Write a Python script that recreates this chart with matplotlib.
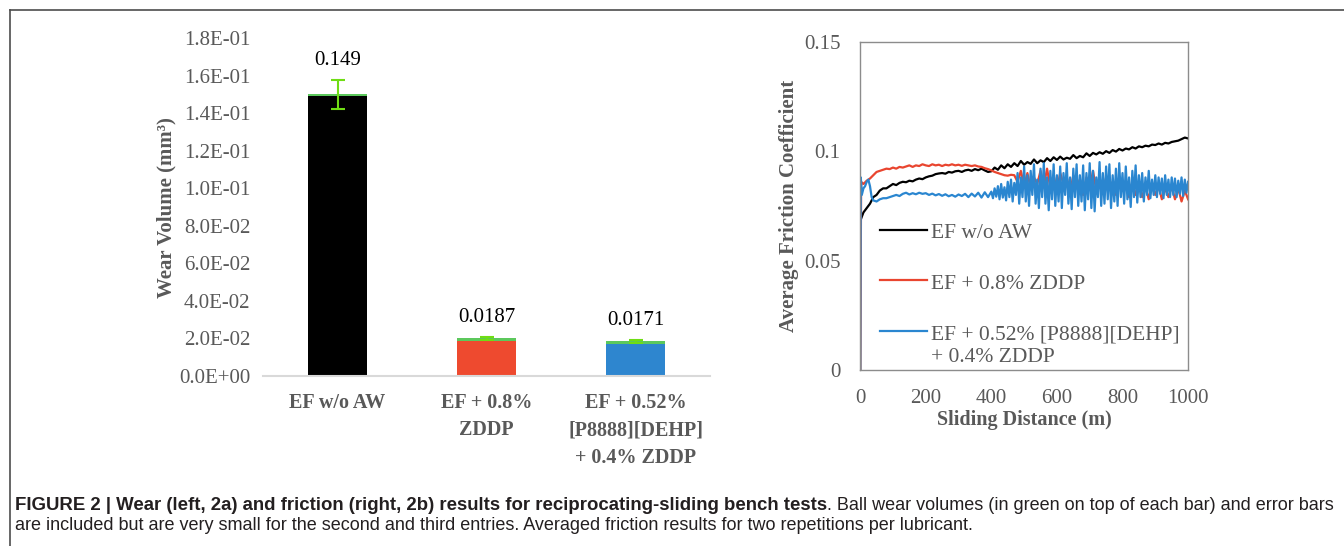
import matplotlib
matplotlib.use("Agg")
import matplotlib.pyplot as plt
from matplotlib.lines import Line2D
import numpy as np

plt.rcParams['font.family'] = ['Liberation Serif', 'DejaVu Serif']

# ---- wear data (left) ----
categories = ["EF w/o AW", "EF + 0.8%\nZDDP", "EF + 0.52%\n[P8888][DEHP]\n+ 0.4% ZDDP"]
wear = [0.149, 0.0187, 0.0171]
ball_wear = [0.0012, 0.0015, 0.0013]
wear_err = [0.0077, 0.0008, 0.0007]
wear_labels = ["0.149", "0.0187", "0.0171"]
bar_colors = ["#000000", "#EE4A2F", "#2E86CF"]
wear_ticks = [0.0, 0.02, 0.04, 0.06, 0.08, 0.10, 0.12, 0.14, 0.16, 0.18]
wear_ticklabels = ["0.0E+00", "2.0E-02", "4.0E-02", "6.0E-02", "8.0E-02",
                   "1.0E-01", "1.2E-01", "1.4E-01", "1.6E-01", "1.8E-01"]

# ---- friction data (right) ----
black_d = [0] + list(range(0, 1001, 10))
black_f = [0.0,
           0.068, 0.072, 0.074, 0.076, 0.079, 0.080, 0.082, 0.083, 0.083, 0.084,
           0.085, 0.0845, 0.0855, 0.086, 0.0858, 0.0865, 0.0862, 0.087, 0.0875, 0.0872,
           0.088, 0.0885, 0.0888, 0.0895, 0.0898, 0.090, 0.0897, 0.0905, 0.0902, 0.0908,
           0.091, 0.0905, 0.0912, 0.0915, 0.0910, 0.0918, 0.0913, 0.0920, 0.0912, 0.0905,
           0.0908, 0.0925, 0.0915, 0.0935, 0.0922, 0.0940, 0.0928, 0.0945, 0.0932, 0.0955,
           0.0938, 0.0950, 0.0942, 0.0962, 0.0945, 0.0958, 0.0950, 0.0968, 0.0955, 0.0972,
           0.0960, 0.0975, 0.0962, 0.0970, 0.0965, 0.0982, 0.0968, 0.0978, 0.0972, 0.0990,
           0.0978, 0.0992, 0.0985, 0.0995, 0.0988, 0.1000, 0.0992, 0.1005, 0.0998, 0.1010,
           0.1003, 0.1012, 0.1008, 0.1018, 0.1012, 0.1022, 0.1018, 0.1025, 0.1022, 0.1030,
           0.1028, 0.1035, 0.1030, 0.1038, 0.1035, 0.1042, 0.1045, 0.1048, 0.1055, 0.1062,
           0.1058]

red_d = [0, 3] + list(range(10, 1001, 10))
red_f = [0.0, 0.086,
         0.085, 0.0865, 0.0875, 0.089, 0.0905, 0.091, 0.0915, 0.092, 0.0918, 0.0925,
         0.092, 0.0928, 0.0925, 0.093, 0.0935, 0.0928, 0.0935, 0.0932, 0.094, 0.0935,
         0.0932, 0.094, 0.0935, 0.0938, 0.0932, 0.0938, 0.0935, 0.094, 0.0935, 0.0938,
         0.0933, 0.0938, 0.0935, 0.0932, 0.0935, 0.093, 0.0928, 0.0922, 0.0918, 0.0912,
         0.0905, 0.0900, 0.0895, 0.0890, 0.0888, 0.0892, 0.089, 0.086, 0.091, 0.084,
         0.090, 0.083, 0.088, 0.085, 0.091, 0.084, 0.092, 0.083, 0.089, 0.082,
         0.090, 0.085, 0.088, 0.081, 0.089, 0.084, 0.087, 0.080, 0.088, 0.083,
         0.091, 0.082, 0.087, 0.081, 0.088, 0.083, 0.086, 0.080, 0.087, 0.082,
         0.085, 0.079, 0.086, 0.080, 0.085, 0.079, 0.084, 0.078, 0.085, 0.080,
         0.084, 0.078, 0.083, 0.079, 0.084, 0.078, 0.083, 0.077, 0.082, 0.078]

blue_d = ([0, 2, 5, 10, 15, 20, 25, 30, 35, 40, 50, 60, 70, 80, 90, 100]
          + list(range(110, 401, 10)) + list(range(405, 1001, 5)))
blue_f = [0.0, 0.088, 0.080, 0.083, 0.084, 0.086, 0.087, 0.084, 0.079, 0.0775,
          0.077, 0.078, 0.0785, 0.0785, 0.079, 0.0795,
          0.0800, 0.0795, 0.0805, 0.0810, 0.0802, 0.0808, 0.0803, 0.0810, 0.0805, 0.0808,
          0.0800, 0.0806, 0.0798, 0.0804, 0.0796, 0.0803, 0.0794, 0.0800, 0.0792, 0.0802,
          0.0795, 0.0805, 0.0790, 0.0806, 0.0793, 0.0810, 0.0788, 0.0812, 0.0790, 0.0815,
          0.0785, 0.0830, 0.0792, 0.0840, 0.0780, 0.0850, 0.0788, 0.0835, 0.0775, 0.0860,
          0.0790, 0.0870, 0.0770, 0.0855, 0.0800, 0.0900, 0.0760, 0.0880, 0.0790, 0.0930,
          0.0770, 0.0890, 0.0750, 0.0910, 0.0800, 0.0940, 0.0760, 0.0870, 0.0740, 0.0920,
          0.0790, 0.0945, 0.0760, 0.0880, 0.0730, 0.0910, 0.0780, 0.0940, 0.0750, 0.0890,
          0.0770, 0.0930, 0.0740, 0.0900, 0.0800, 0.0945, 0.0760, 0.0880, 0.0735, 0.0920,
          0.0790, 0.0940, 0.0750, 0.0890, 0.0770, 0.0935, 0.0730, 0.0900, 0.0780, 0.0945,
          0.0740, 0.0910, 0.0725, 0.0880, 0.0790, 0.0950, 0.0750, 0.0900, 0.0760, 0.0930,
          0.0780, 0.0940, 0.0740, 0.0890, 0.0770, 0.0920, 0.0750, 0.0945, 0.0790, 0.0900,
          0.0760, 0.0930, 0.0780, 0.0880, 0.0745, 0.0910, 0.0790, 0.0935, 0.0765, 0.0890,
          0.0790, 0.0900, 0.0770, 0.0880, 0.0800, 0.0910, 0.0785, 0.0870, 0.0800, 0.0890,
          0.0790, 0.0880, 0.0805, 0.0875, 0.0785, 0.0890, 0.0800, 0.0870, 0.0790, 0.0880,
          0.0800, 0.0875, 0.0790, 0.0865, 0.0805, 0.0880, 0.0795, 0.0870, 0.0810, 0.0860]

series_labels = ["EF w/o AW", "EF + 0.8% ZDDP", "EF + 0.52% [P8888][DEHP]\n+ 0.4% ZDDP"]
line_colors = ["#000000", "#E9452F", "#2A86D0"]
fric_ticks = [0, 0.05, 0.1, 0.15]
fric_ticklabels = ["0", "0.05", "0.1", "0.15"]
dist_ticks = [0, 200, 400, 600, 800, 1000]

gray = "#595959"
green_top = "#5CC85C"
green_err = "#6FDD14"

fig = plt.figure(figsize=(13.44, 5.46), dpi=100)

# ---------- left: wear bars ----------
ax1 = fig.add_axes([0.1957, 0.3114, 0.3326, 0.6186])
x = np.arange(len(categories))
ax1.bar(x, wear, width=0.4, color=bar_colors, zorder=2)
ax1.bar(x, ball_wear, width=0.4, bottom=wear, color=green_top, zorder=2)
tops = [w + b for w, b in zip(wear, ball_wear)]
ax1.errorbar(x, tops, yerr=wear_err, fmt="none", ecolor=green_err,
             elinewidth=1.5, capsize=5, capthick=1.5, zorder=3)
for xi, t, e, lab in zip(x, tops, wear_err, wear_labels):
    ax1.annotate(lab, (xi, t + e), xytext=(0, 7), textcoords="offset points",
                 ha="center", va="bottom", fontsize=15, color="black")
ax1.set_xlim(-0.5, 2.5)
ax1.set_ylim(0, 0.18)
ax1.set_yticks(wear_ticks)
ax1.set_yticklabels(wear_ticklabels)
ax1.set_xticks(x)
ax1.set_xticklabels(categories, fontweight="bold", fontsize=14.5, color=gray,
                    linespacing=1.5, va="top")
ax1.tick_params(axis="y", length=0, pad=9, labelsize=15, labelcolor=gray)
ax1.tick_params(axis="x", length=0, pad=12)
for s in ["top", "right", "left"]:
    ax1.spines[s].set_visible(False)
ax1.spines["bottom"].set_color("#D9D9D9")
ax1.spines["bottom"].set_linewidth(1.5)
ax1.set_ylabel("Wear Volume (mm³)", fontsize=15, fontweight="bold",
               color=gray, labelpad=2)

# ---------- right: friction ----------
ax2 = fig.add_axes([0.640, 0.3223, 0.244, 0.6013])
ax2.plot(black_d, black_f, color=line_colors[0], lw=1.6)
ax2.plot(red_d, red_f, color=line_colors[1], lw=1.6)
ax2.plot(blue_d, blue_f, color=line_colors[2], lw=1.6)
ax2.set_xlim(0, 1000)
ax2.set_ylim(0, 0.15)
ax2.set_yticks(fric_ticks)
ax2.set_yticklabels(fric_ticklabels)
ax2.set_xticks(dist_ticks)
ax2.tick_params(length=0, labelsize=15, labelcolor=gray)
ax2.tick_params(axis="y", pad=14)
ax2.tick_params(axis="x", pad=14)
for s in ax2.spines.values():
    s.set_color("#8C8C8C")
    s.set_linewidth(1.0)
ax2.set_ylabel("Average Friction Coefficient", fontsize=15, fontweight="bold",
               color=gray, labelpad=4)
ax2.set_xlabel("Sliding Distance (m)", fontsize=14.5, fontweight="bold",
               color=gray, labelpad=1)

# legend drawn by hand so the handle of the two-line entry sits on its first line
leg_rows = [0.427, 0.274, 0.118]
line_step = 0.068
for lab, col, yr in zip(series_labels, line_colors, leg_rows):
    ax2.add_line(Line2D([0.061, 0.204], [yr, yr], transform=ax2.transAxes,
                        color=col, lw=1.6))
    for k, part in enumerate(lab.split("\n")):
        ax2.text(0.216, yr - 0.012 - k * line_step, part, transform=ax2.transAxes,
                 fontsize=15.5, color=gray, va="center", ha="left")

# ---------- figure frame and caption ----------
fig.add_artist(Line2D([10 / 1344, 1.0], [1 - 10 / 546, 1 - 10 / 546],
                      transform=fig.transFigure, color="#4D4D4D", lw=1.2))
fig.add_artist(Line2D([10 / 1344, 10 / 1344], [0.0, 1 - 10 / 546],
                      transform=fig.transFigure, color="#4D4D4D", lw=1.2))

cap_font = ["Liberation Sans", "DejaVu Sans"]
t1 = fig.text(15 / 1344, 1 - 505 / 546,
              "FIGURE 2 | Wear (left, 2a) and friction (right, 2b) results for reciprocating-sliding bench tests",
              fontsize=13.4, fontweight="bold", family=cap_font, va="center", color="#231F20")
fig.canvas.draw()
bb = t1.get_window_extent(fig.canvas.get_renderer())
fig.text(bb.x1 / fig.bbox.width, 1 - 505 / 546,
         ". Ball wear volumes (in green on top of each bar) and error bars",
         fontsize=13.0, family=cap_font, va="center", color="#231F20")
fig.text(15 / 1344, 1 - 526 / 546,
         "are included but are very small for the second and third entries. Averaged friction results for two repetitions per lubricant.",
         fontsize=13.0, family=cap_font, va="center", color="#231F20")

fig.savefig("out.png", dpi=100)
